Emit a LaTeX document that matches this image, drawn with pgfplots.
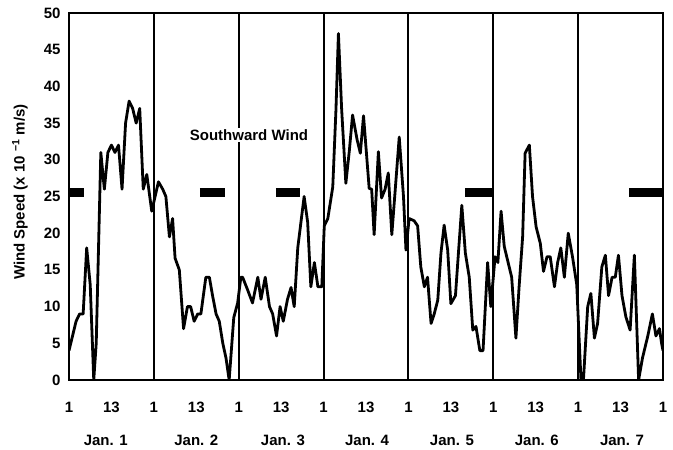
\documentclass[border=0pt]{standalone}
\usepackage{fontspec}
\setmainfont{Liberation Sans}
\usepackage{pgfplots}
\pgfplotsset{compat=1.18}

\begin{document}
\begin{tikzpicture}[font=\fontsize{15bp}{18bp}\selectfont\bfseries]
\path[use as bounding box] (0,0) rectangle (673bp,450bp);
\begin{axis}[
  at={(69bp,70bp)}, anchor=south west,
  width=594bp, height=367bp, scale only axis,
  clip mode=individual,
  xmin=0, xmax=168, ymin=0, ymax=50,
  axis line style={line width=2bp},
  xtick={0,12,...,168},
  xticklabels={1,13,1,13,1,13,1,13,1,13,1,13,1,13,1},
  ytick={0,5,...,50},
  major tick length=0pt,
  /pgf/number format/assume math mode=true,
  tick label style={font=\fontsize{15bp}{18bp}\selectfont\bfseries},
  xticklabel style={anchor=base, yshift=-32bp},
  yticklabel style={xshift=-5bp},
  extra x ticks={24,48,72,96,120,144},
  extra x tick labels={},
  extra x tick style={grid=major, major grid style={black, line width=2bp}},
  ylabel={Wind Speed (x 10 \textsuperscript{−1} m/s)},
  ylabel style={at={(axis description cs:-0.0825,0.512)}, anchor=center,
    rotate=0, font=\fontsize{15bp}{18bp}\selectfont\bfseries},
]
% night bars
\addplot[black, line width=8.5bp, line cap=butt] coordinates {(0,25.55)(4.3,25.55)};
\addplot[black, line width=8.5bp, line cap=butt] coordinates {(37,25.55)(44.2,25.55)};
\addplot[black, line width=8.5bp, line cap=butt] coordinates {(58.5,25.55)(65.3,25.55)};
\addplot[black, line width=8.5bp, line cap=butt] coordinates {(112,25.55)(120,25.55)};
\addplot[black, line width=8.5bp, line cap=butt] coordinates {(158.5,25.55)(168,25.55)};

\addplot[black, line width=2.8bp, line join=round] coordinates {
 (0,4)(1,6)(2,8)(3,9)(4,9)(5,18)(6,13)(7,0)(7.7,5)(9,31)(10,26)(11,31)(12,32)
 (13,31)(14,32)(15,26)(16,35)(17,38)(18,37)(19,35)(20,37)(21,26)(22,28)(23.4,23)(25.3,27)
 (26.5,26)(27.4,25)(28.4,19.5)(29.3,22)(30,16.6)(31.2,15)(32.4,7)(33.5,10)(34.4,10)
 (35.4,8)(36.4,9)(37.3,9)(38.7,14)(39.7,14)(40.6,11.5)(41.6,9)(42.5,8)(43.5,5)(44.4,3)
 (45.3,0)(46.6,8.5)(47.7,10.5)(48.6,14)
 (49.1,14)(50.5,12.3)(51.9,10.5)(53.4,14)(54.3,11)(55.5,14)(56.7,10)(57.6,9)(58.7,6)
 (59.7,10)(60.6,8)(61.8,11)(62.8,12.6)(63.7,10)(64.7,18)(65.6,21.5)(66.5,25)(67.5,21.5)
 (68.4,12.7)(69.4,16)(70.4,12.7)(71.5,12.7)(72.2,21)
 (73.2,22)(74.6,26.3)(75.5,36.8)(76.2,47.2)(77.1,37)(78.3,26.8)(79.3,31.3)(80.2,36.1)
 (81.5,32.7)(82.4,30.9)(83.3,36)(84.9,26.1)(85.6,26)(86.3,19.8)(87.5,31.1)(88.4,24.8)
 (89.4,26)(90.3,28.2)(91.3,19.8)(93.4,33.1)(94.6,25)(95.3,17.7)(96.2,22)
 (97.6,21.7)(98.6,21)(99.5,15.4)(100.5,12.7)(101.4,14)(102.4,7.7)(103.3,9)(104.3,10.9)
 (105.2,17.3)(106.1,21.1)(107.1,17.7)(108,10.4)(109.3,11.5)(110.2,17.7)(111.1,23.8)
 (112.1,17.3)(113.2,14)(114.2,6.8)(115.1,7.3)(116.2,4)(117.1,4)(118.4,16)(119.3,10)(120.5,16.8)
 (121.3,16)(122.2,23)(123.1,18.2)(124.2,16)(125.2,14)(126.4,5.7)(127.3,12.7)(128.3,19.5)
 (129,30.9)(130.2,32)(131.1,25)(132.1,20.9)(133.3,18.6)(134.2,14.8)(135.2,16.8)(136.1,16.8)
 (137.3,12.7)(138.2,16)(139.1,18)(140.1,14)(141.2,20)(142.4,16.8)(143.6,13)(144.8,0)
 (145.5,0)(146.7,10)(147.6,11.8)(148.6,5.7)(149.5,7.7)(150.7,15.4)(151.7,17)(152.6,11.5)
 (153.6,14)(154.5,14)(155.4,17)(156.4,11.5)(157.5,8.6)(158.7,6.8)(159.9,17)(161.1,0)
 (162.2,3)(163.7,6)(165,9)(166,6)(167,7)(167.6,5)(168,4)
};

\node[fill=white, inner sep=1.5bp] at (axis cs:50.9,33.4) {Southward Wind};

% day labels under the hour ticks
\node[anchor=base, yshift=-65bp] at (axis cs:10.4,0) {Jan. 1};
\node[anchor=base, yshift=-65bp] at (axis cs:36,0) {Jan. 2};
\node[anchor=base, yshift=-65bp] at (axis cs:60.5,0) {Jan. 3};
\node[anchor=base, yshift=-65bp] at (axis cs:84.3,0) {Jan. 4};
\node[anchor=base, yshift=-65bp] at (axis cs:108.3,0) {Jan. 5};
\node[anchor=base, yshift=-65bp] at (axis cs:132.3,0) {Jan. 6};
\node[anchor=base, yshift=-65bp] at (axis cs:156.4,0) {Jan. 7};
\end{axis}
\end{tikzpicture}
\end{document}
